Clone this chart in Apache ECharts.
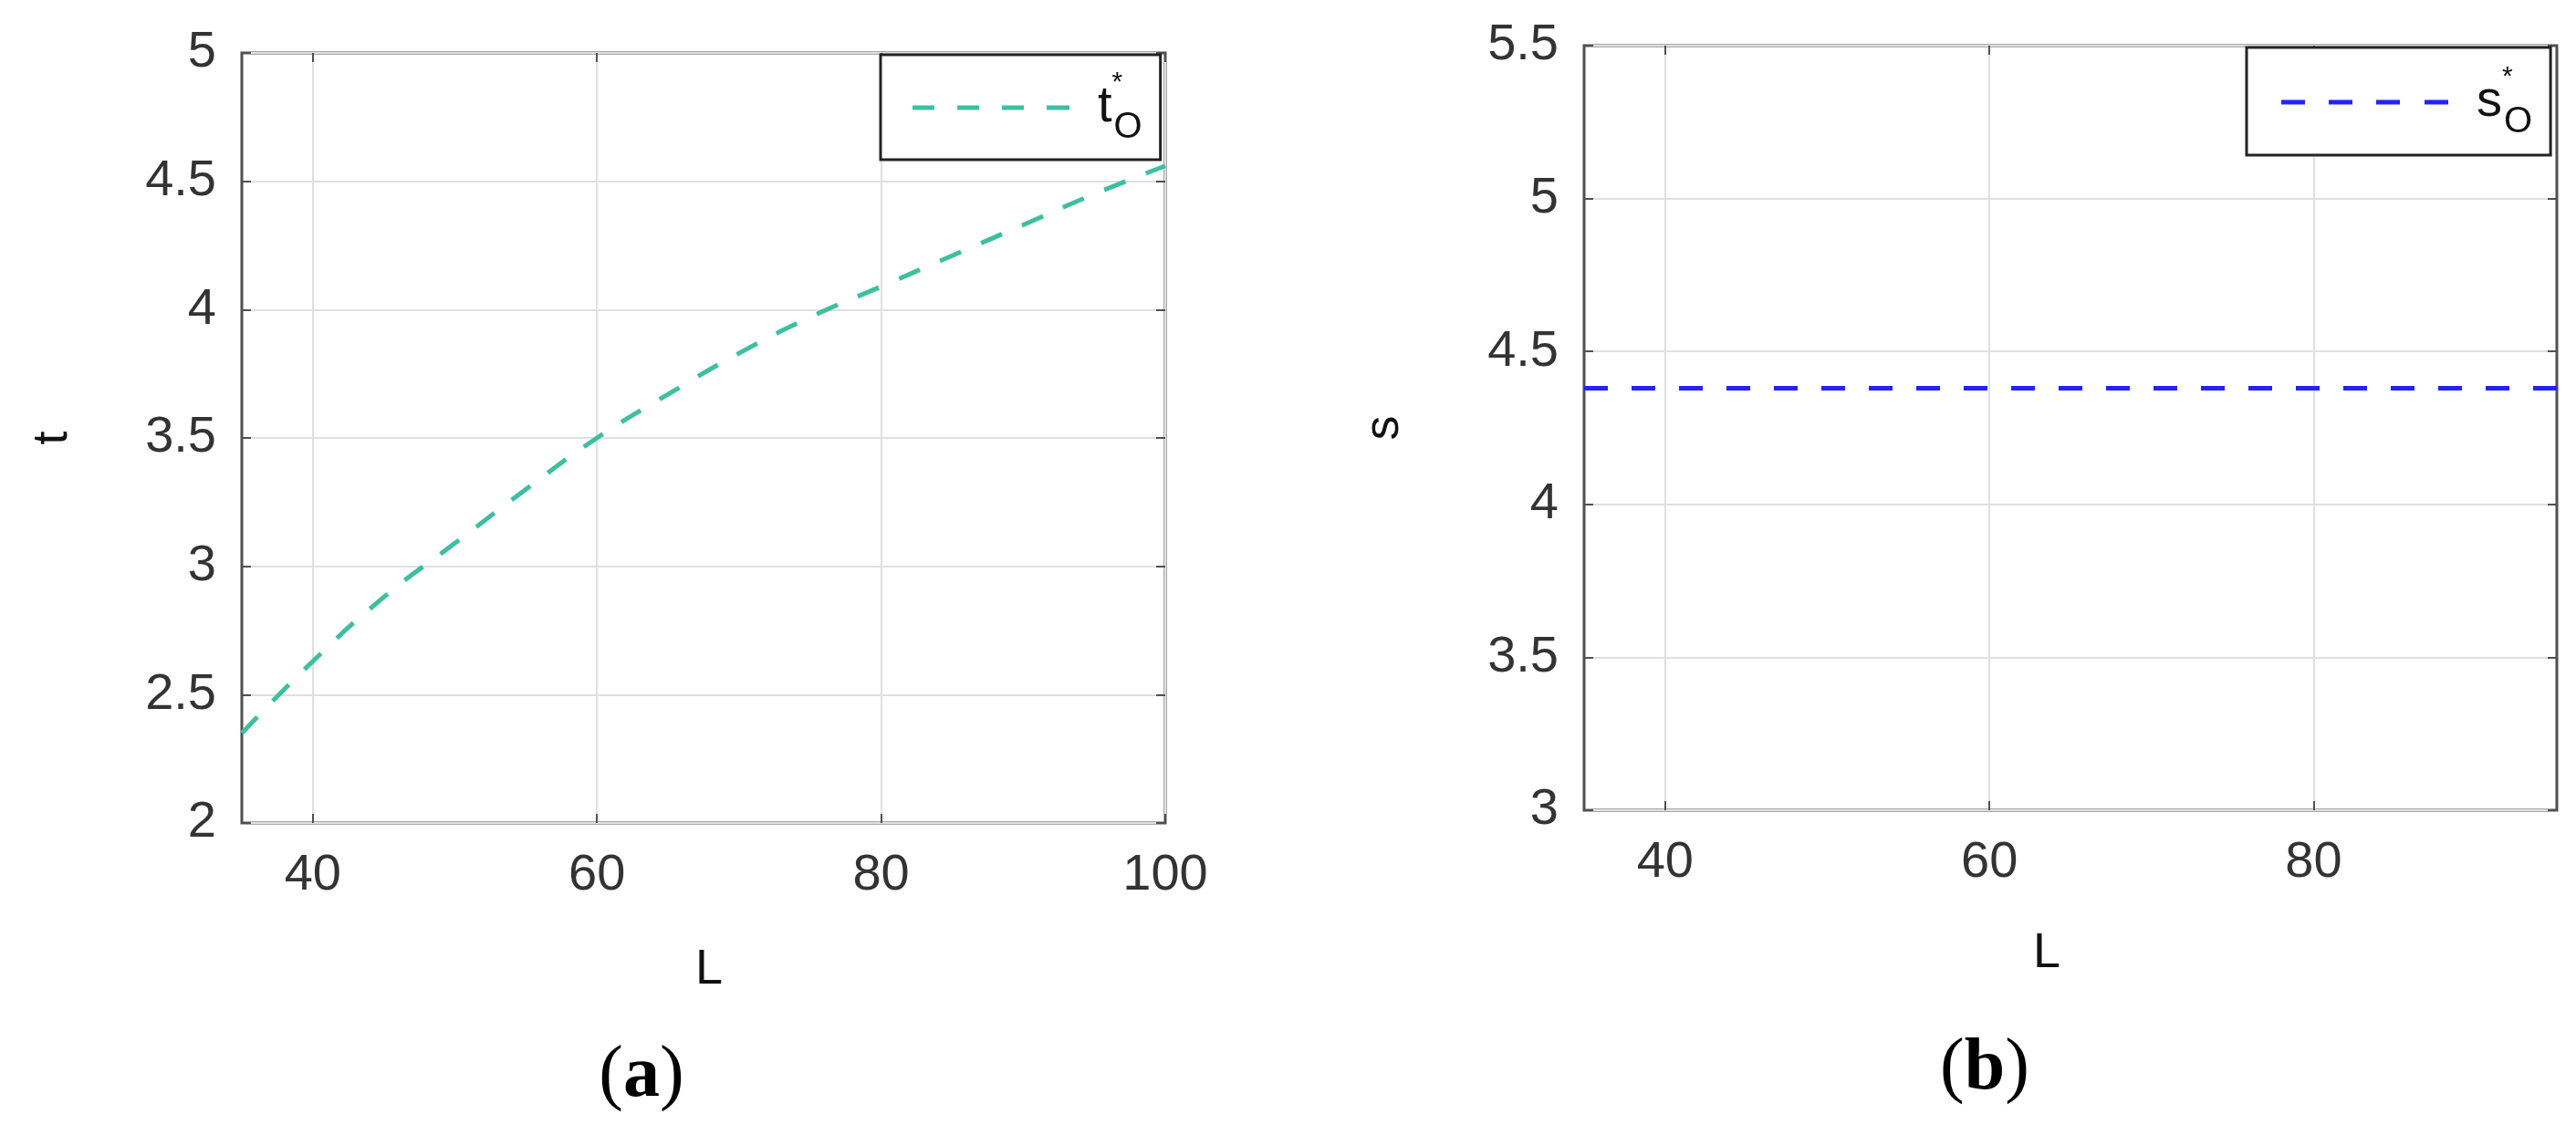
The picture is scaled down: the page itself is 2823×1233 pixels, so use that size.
<!DOCTYPE html>
<html><head><meta charset="utf-8">
<script src="https://cdn.jsdelivr.net/npm/echarts@6/dist/echarts.min.js"></script>
<style>html,body{margin:0;padding:0;background:#fff}#c{width:2823px;height:1233px}</style>
</head><body><div id="c"></div>
<script>
// ---- data ----
const L_a = [35, 40, 45, 50, 55, 60, 65, 70, 75, 80, 85, 90, 95, 100];
const t_opt = [2.35, 2.63, 2.88, 3.09, 3.30, 3.50, 3.67, 3.83, 3.97, 4.09, 4.21, 4.33, 4.45, 4.56];
const L_b = [35, 40, 45, 50, 55, 60, 65, 70, 75, 80, 85, 90, 95];
const s_opt = [4.38, 4.38, 4.38, 4.38, 4.38, 4.38, 4.38, 4.38, 4.38, 4.38, 4.38, 4.38, 4.38];
const xTicks_a = [40, 60, 80, 100];
const xTicks_b = [40, 60, 80];
const xRange_a = [35, 100];
const xRange_b = [35, 95];
const yRange_a = [2, 5];
const yRange_b = [3, 5.5];
const yStep = 0.5;
const names = ['t_O', 's_O'];

const FONT = 'Liberation Sans';
const AX = '#505050';
const GRIDC = '#e0e0e0';
const TICKFS = 56;

function xAxes(gi, range, ticks, nameGap, namePad) {
  return [{
    gridIndex: gi, type: 'value', min: range[0], max: range[1],
    axisLine: { show: false },
    axisTick: { show: true, inside: true, length: 10, customValues: ticks, lineStyle: { color: AX, width: 2 } },
    axisLabel: { customValues: ticks, fontSize: TICKFS, fontFamily: FONT, color: '#333', margin: 30 },
    splitLine: { show: true, lineStyle: { color: GRIDC, width: 2 } },
    name: 'L', nameLocation: 'middle', nameGap: nameGap,
    nameTextStyle: { fontSize: 54, fontFamily: FONT, color: '#111', padding: namePad }
  }, {
    gridIndex: gi, type: 'value', position: 'top', min: range[0], max: range[1],
    axisLine: { show: false },
    axisTick: { show: true, inside: true, length: 10, customValues: ticks, lineStyle: { color: AX, width: 2 } },
    axisLabel: { show: false }, splitLine: { show: false }
  }];
}
function yAxes(gi, range, name, nameGap) {
  return [{
    gridIndex: gi, type: 'value', min: range[0], max: range[1], interval: yStep,
    axisLine: { show: false },
    axisTick: { show: true, inside: true, length: 10, lineStyle: { color: AX, width: 2 } },
    axisLabel: { fontSize: TICKFS, fontFamily: FONT, color: '#333', margin: 28 },
    splitLine: { show: true, lineStyle: { color: GRIDC, width: 2 } },
    name: name, nameLocation: 'middle', nameGap: nameGap,
    nameTextStyle: { fontSize: 54, fontFamily: FONT, color: '#111' }
  }, {
    gridIndex: gi, type: 'value', position: 'right', min: range[0], max: range[1], interval: yStep,
    axisLine: { show: false },
    axisTick: { show: true, inside: true, length: 10, lineStyle: { color: AX, width: 2 } },
    axisLabel: { show: false }, splitLine: { show: false }
  }];
}

function richFor(padL) {
  return {
    m: { fontFamily: FONT, fontSize: 56, lineHeight: 84, color: '#111', padding: [0, 0, 0, padL] },
    st: { fontFamily: FONT, fontSize: 30, lineHeight: 30, verticalAlign: 'top', width: 2, color: '#111' },
    o: { fontFamily: FONT, fontSize: 40, lineHeight: 40, verticalAlign: 'bottom', color: '#111' }
  };
}

const chart = echarts.init(document.getElementById('c'), null, { renderer: 'canvas' });
chart.setOption({
  animation: false,
  backgroundColor: '#fff',
  grid: [
    { left: 265, top: 58, width: 1012, height: 844, show: true, borderColor: AX, borderWidth: 3, backgroundColor: 'transparent' },
    { left: 1736, top: 50, width: 1066, height: 838, show: true, borderColor: AX, borderWidth: 3, backgroundColor: 'transparent' }
  ],
  xAxis: [...xAxes(0, xRange_a, xTicks_a, 134, [0, 0, 0, 12]), ...xAxes(1, xRange_b, xTicks_b, 130, [0, 52, 0, 0])],
  yAxis: [...yAxes(0, yRange_a, 't', 180), ...yAxes(1, yRange_b, 's', 192)],
  legend: [{
    data: [names[0]], left: 965, top: 60, selectedMode: false,
    padding: [16, 20, 15, 35], itemWidth: 172, itemHeight: 5,
    icon: 'path://M0,0h24v5h-24zM49,0h24v5h-24zM98,0h24v5h-24zM147,0h25v5h-25z',
    backgroundColor: '#fff', borderColor: '#222', borderWidth: 3, borderRadius: 0,
    formatter: () => '{m|t}{st|*}{o|O}',
    textStyle: { rich: richFor(26) }
  }, {
    data: [names[1]], left: 2462, top: 52, selectedMode: false,
    padding: [18, 20, 16, 38], itemWidth: 183, itemHeight: 5,
    icon: 'path://M0,0h26v5h-26zM52,0h26v5h-26zM104,0h26v5h-26zM157,0h26v5h-26z',
    backgroundColor: '#fff', borderColor: '#222', borderWidth: 3, borderRadius: 0,
    formatter: () => '{m|s}{st|*}{o|O}',
    textStyle: { rich: richFor(26) }
  }],
  series: [{
    name: names[0], type: 'line', xAxisIndex: 0, yAxisIndex: 0, smooth: true,
    showSymbol: false, symbol: 'none', color: '#3dbfa0',
    lineStyle: { color: '#3dbfa0', width: 5, type: [25, 24] },
    data: L_a.map((l, i) => [l, t_opt[i]])
  }, {
    name: names[1], type: 'line', xAxisIndex: 2, yAxisIndex: 2,
    showSymbol: false, symbol: 'none', color: '#2222ff',
    lineStyle: { color: '#2222ff', width: 5, type: [26, 26] },
    data: L_b.map((l, i) => [l, s_opt[i]])
  }],
  graphic: [{
    type: 'text', x: 703, y: 1180,
    style: { text: '{p|(}{b|a}{p|)}', align: 'center', verticalAlign: 'middle',
      rich: { p: { fontFamily: 'Liberation Serif', fontSize: 80, color: '#000' },
              b: { fontFamily: 'Liberation Serif', fontSize: 80, fontWeight: 'bold', color: '#000' } } }
  }, {
    type: 'text', x: 2175, y: 1172,
    style: { text: '{p|(}{b|b}{p|)}', align: 'center', verticalAlign: 'middle',
      rich: { p: { fontFamily: 'Liberation Serif', fontSize: 80, color: '#000' },
              b: { fontFamily: 'Liberation Serif', fontSize: 80, fontWeight: 'bold', color: '#000' } } }
  }]
});
</script></body></html>
